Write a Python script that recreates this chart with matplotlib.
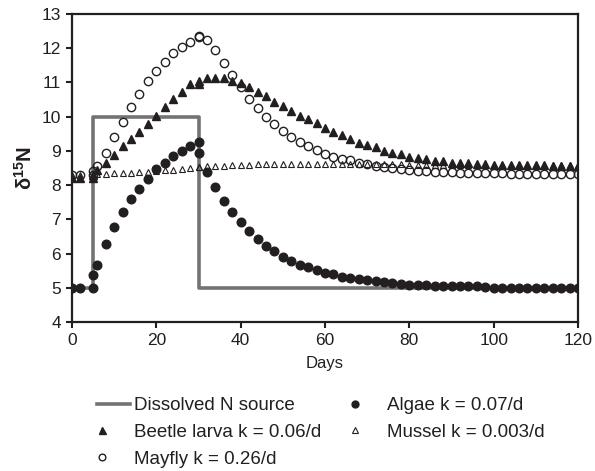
import matplotlib
matplotlib.use("Agg")
import matplotlib.pyplot as plt
from matplotlib.legend_handler import HandlerLine2D

plt.rcParams['font.family'] = ['Liberation Sans', 'DejaVu Sans']
plt.rcParams['mathtext.fontset'] = 'custom'
plt.rcParams['mathtext.rm'] = 'Liberation Sans'
plt.rcParams['mathtext.it'] = 'Liberation Sans'
plt.rcParams['mathtext.bf'] = 'Liberation Sans:bold'

# dissolved N source (step pulse)
source_days = [0, 5, 5, 30, 30, 120]
source_d15n = [5, 5, 10, 10, 5, 5]

# sampling days shared by the four consumers (5 and 30 appear twice: before / after the switch)
days = [0, 2, 5, 5, 6, 8, 10, 12, 14, 16, 18, 20, 22, 24, 26, 28, 30, 30,
        32, 34, 36, 38, 40, 42, 44, 46, 48, 50, 52, 54, 56, 58, 60, 62, 64, 66,
        68, 70, 72, 74, 76, 78, 80, 82, 84, 86, 88, 90, 92, 94, 96, 98, 100,
        102, 104, 106, 108, 110, 112, 114, 116, 118, 120]

algae = [5.0, 5.0, 5.0, 5.37, 5.67, 6.27, 6.77, 7.2, 7.59, 7.9, 8.18, 8.46,
         8.66, 8.86, 9.01, 9.15, 9.27, 8.95,
         8.39, 7.94, 7.55, 7.21, 6.92, 6.65, 6.42, 6.22, 6.07, 5.91, 5.79, 5.68,
         5.6, 5.52, 5.44, 5.39, 5.32, 5.3, 5.25, 5.22, 5.19, 5.17, 5.13, 5.12,
         5.09, 5.08, 5.08, 5.05, 5.05, 5.05, 5.04, 5.04, 5.04, 5.01, 5.0,
         5.0, 5.0, 5.0, 5.0, 5.0, 5.0, 5.0, 5.0, 5.0, 5.0]

beetle = [8.2, 8.2, 8.2, 8.3, 8.44, 8.64, 8.88, 9.15, 9.34, 9.55, 9.79, 10.03,
          10.28, 10.51, 10.73, 10.95, 10.95, 11.05,
          11.13, 11.13, 11.13, 11.05, 10.98, 10.86, 10.73, 10.59, 10.44, 10.3,
          10.17, 10.02, 9.93, 9.81, 9.68, 9.56, 9.47, 9.34, 9.24, 9.16, 9.1,
          9.01, 8.93, 8.9, 8.83, 8.8, 8.76, 8.71, 8.69, 8.66, 8.64, 8.64, 8.62,
          8.61, 8.6, 8.6, 8.59, 8.59, 8.58, 8.58, 8.58, 8.57, 8.57, 8.57, 8.57]

mussel = [8.3, 8.3, 8.3, 8.3, 8.32, 8.33, 8.34, 8.35, 8.36, 8.37, 8.39, 8.41,
          8.43, 8.45, 8.47, 8.49, 8.52, 8.53,
          8.55, 8.56, 8.57, 8.58, 8.59, 8.6, 8.61, 8.61, 8.61, 8.61, 8.61, 8.61,
          8.61, 8.61, 8.61, 8.61, 8.61, 8.61, 8.61, 8.61, 8.61, 8.61, 8.61,
          8.61, 8.6, 8.6, 8.6, 8.6, 8.6, 8.6, 8.6, 8.6, 8.6, 8.6, 8.6, 8.6, 8.6,
          8.6, 8.6, 8.6, 8.6, 8.6, 8.6, 8.6, 8.6]

mayfly = [8.3, 8.3, 8.3, 8.4, 8.57, 8.95, 9.42, 9.85, 10.28, 10.67, 11.03,
          11.34, 11.6, 11.85, 12.03, 12.18, 12.32, 12.35,
          12.23, 11.96, 11.58, 11.22, 10.86, 10.52, 10.25, 9.98, 9.79, 9.59,
          9.4, 9.27, 9.15, 9.04, 8.91, 8.83, 8.77, 8.73, 8.66, 8.61, 8.57, 8.54,
          8.5, 8.46, 8.44, 8.42, 8.4, 8.38, 8.37, 8.37, 8.35, 8.35, 8.34, 8.34,
          8.34, 8.34, 8.33, 8.33, 8.33, 8.33, 8.33, 8.33, 8.33, 8.33, 8.33]

labels = ['Dissolved N source', 'Algae k = 0.07/d', 'Beetle larva k = 0.06/d',
          'Mussel k = 0.003/d', 'Mayfly k = 0.26/d']

ink = '#231f20'


class LeftMarkerHandler(HandlerLine2D):
    # marker sits in the middle of the handle box, the line only covers the right part
    def get_xdata(self, legend, xdescent, ydescent, width, height, fontsize):
        return [-xdescent + 0.41 * width, -xdescent + width], [-xdescent + 0.5 * width]


fig = plt.figure(figsize=(5.95, 4.71), dpi=100)
ax = fig.add_axes([72 / 595, 1 - 322 / 471, 506 / 595, 308 / 471])

src, = ax.plot(source_days, source_d15n, color='#737373', lw=2.6, zorder=1)
alg, = ax.plot(days, algae, 'o', ms=6.2, color=ink, mec=ink, ls='none', zorder=3)
bee, = ax.plot(days, beetle, '^', ms=6.3, color=ink, mec=ink, ls='none', zorder=3)
mus, = ax.plot(days, mussel, '^', ms=4.6, mfc='none', mec=ink, mew=0.8, ls='none', zorder=4)
may, = ax.plot(days, mayfly, 'o', ms=6.0, mfc='none', mec=ink, mew=1.0, ls='none', zorder=4)

ax.set_xlim(0, 120)
ax.set_ylim(4, 13)
ax.set_xticks([0, 20, 40, 60, 80, 100, 120])
ax.set_yticks(range(4, 14))
for s in ax.spines.values():
    s.set_linewidth(1.6)
    s.set_color(ink)
ax.tick_params(direction='out', length=4, width=1.5, colors=ink, labelsize=12.5, pad=4)
ax.set_xlabel('Days', fontsize=12, color=ink, labelpad=6)
ax.set_ylabel(r'$\mathbf{\delta^{15}N}$', fontsize=14.5, color=ink, labelpad=4)

handles = [src, bee, may, alg, mus]
order = [labels[0], labels[2], labels[4], labels[1], labels[3]]
leg = fig.legend(handles, order, loc='upper left', bbox_to_anchor=(74 / 595, 1 - 397 / 471),
                 ncol=2, frameon=False, fontsize=13.5, handlelength=3.0, handletextpad=0.2,
                 columnspacing=0.3, labelspacing=0.52, borderpad=0, borderaxespad=0,
                 numpoints=1, markerscale=0.8, handler_map={src: LeftMarkerHandler()})
for t in leg.get_texts():
    t.set_color(ink)

fig.savefig('out.png', dpi=100)
